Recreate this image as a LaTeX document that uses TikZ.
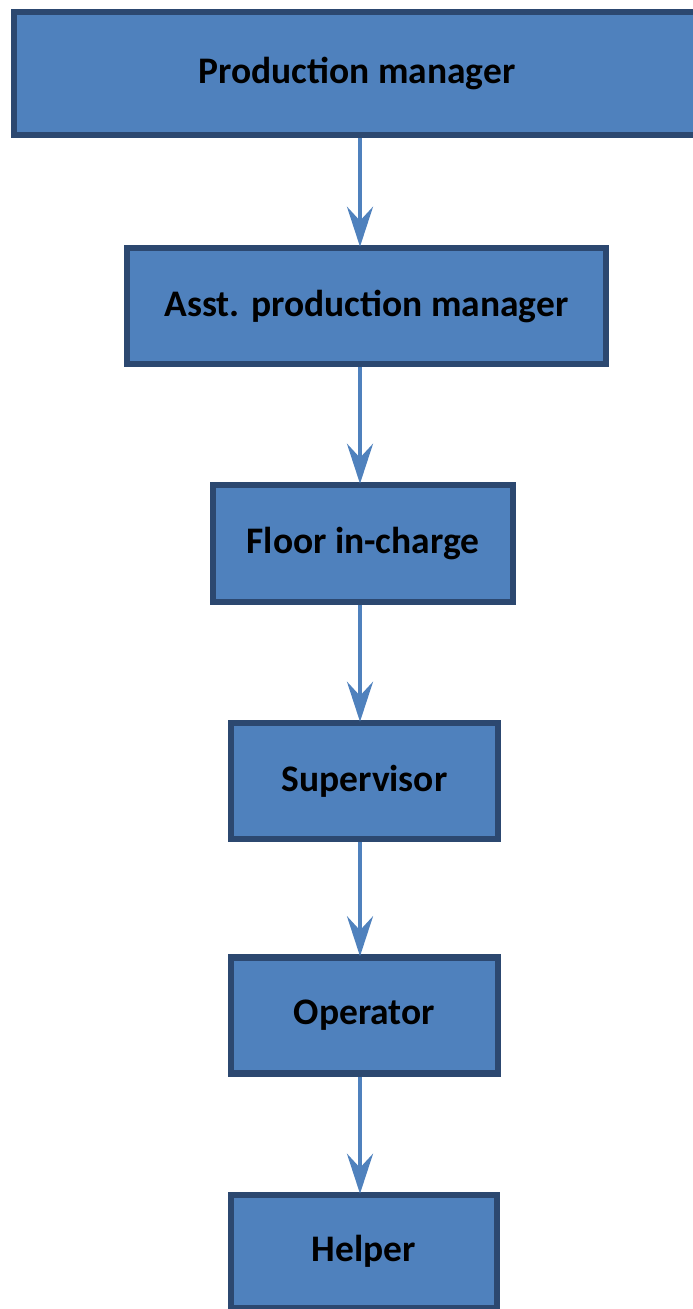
\documentclass[tikz,border=0pt]{standalone}
\usepackage{fontspec}
\setmainfont{Carlito}
\usetikzlibrary{arrows.meta}
\definecolor{boxfill}{RGB}{79,129,189}
\definecolor{boxline}{RGB}{44,72,112}
\definecolor{arrowcol}{RGB}{79,129,189}
\tikzset{
  orgbox/.style={draw=boxline, line width=6.5pt, fill=boxfill, inner sep=0pt,
    font=\fontsize{37.5}{44}\selectfont\bfseries, text=black},
  arr/.style={draw=arrowcol, line width=4pt,
    -{Stealth[length=40pt,width=26pt,inset=14pt]}, shorten >=-2pt}
}
\begin{document}
\begin{tikzpicture}[x=1pt,y=-1pt]
\useasboundingbox (0,0) rectangle (693,1309);
\node[orgbox, minimum width=686pt, minimum height=123pt] (p1) at (357,73.5) {Production manager};
\node[orgbox, minimum width=479pt, minimum height=116pt] (p2) at (366.5,306) {Asst. production manager};
\node[orgbox, minimum width=300pt, minimum height=117pt] (p3) at (363,543.5) {Floor in-charge};
\node[orgbox, minimum width=267pt, minimum height=116pt] (p4) at (364.5,781) {Supervisor};
\node[orgbox, minimum width=267pt, minimum height=116pt] (p5) at (364.5,1015.5) {Operator};
\node[orgbox, minimum width=266pt, minimum height=113pt] (p6) at (364,1251.5) {Helper};
\coordinate (axis) at (360,0);
\draw[arr] (p1.south -| axis) -- (p2.north -| axis);
\draw[arr] (p2.south -| axis) -- (p3.north -| axis);
\draw[arr] (p3.south -| axis) -- (p4.north -| axis);
\draw[arr] (p4.south -| axis) -- (p5.north -| axis);
\draw[arr] (p5.south -| axis) -- (p6.north -| axis);
\end{tikzpicture}
\end{document}
